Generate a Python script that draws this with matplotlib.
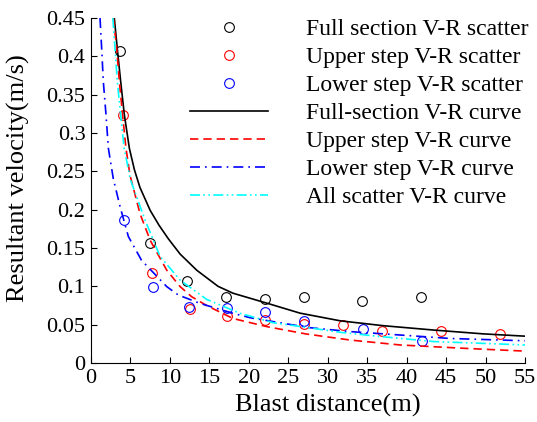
import matplotlib.pyplot as plt
from matplotlib.ticker import FormatStrFormatter

# scatter points
full_x = [3.67, 7.48, 12.2, 17.1, 22.1, 27.0, 34.4, 41.8]
full_y = [0.407, 0.157, 0.107, 0.086, 0.083, 0.0866, 0.081, 0.0856]
upper_x = [4.1, 7.7, 12.5, 17.2, 22.1, 27.0, 31.9, 36.9, 44.3, 51.8]
upper_y = [0.323, 0.117, 0.071, 0.061, 0.056, 0.051, 0.0496, 0.042, 0.042, 0.0374]
lower_x = [4.18, 7.8, 12.4, 17.2, 22.1, 27.0, 34.5, 41.9]
lower_y = [0.187, 0.099, 0.073, 0.072, 0.067, 0.055, 0.045, 0.029]

# fitted V-R curves, sampled from the figure
fc_x = [2.95, 3.33, 3.76, 4.22, 4.86, 5.5, 6.2, 7.5, 8.6, 9.8, 11.3, 13.4, 16.1,
        18.0, 22.3, 26.5, 31.6, 37.0, 43.4, 49.7, 55]
fc_y = [0.45, 0.41, 0.367, 0.324, 0.28, 0.252, 0.229, 0.199, 0.18, 0.162, 0.142,
        0.121, 0.1, 0.091, 0.078, 0.065, 0.055, 0.0487, 0.043, 0.038, 0.035]
uc_x = [2.83, 3.25, 3.59, 4.0, 4.43, 4.94, 6.2, 7.5, 9.6, 11.3, 12.75, 14.65,
        18.0, 22.3, 27.3, 32.8, 39.2, 47.6, 55]
uc_y = [0.45, 0.41, 0.367, 0.3235, 0.28, 0.245, 0.195, 0.16, 0.121, 0.0996,
        0.0865, 0.075, 0.058, 0.0474, 0.0378, 0.030, 0.0235, 0.019, 0.0155]
lc_x = [1.14, 1.35, 1.56, 1.9, 2.2, 2.83, 3.68, 4.73, 6.4, 9.6, 11.06, 13.8,
        18.0, 20.2, 24.4, 27.8, 32.8, 39.2, 45.5, 55]
lc_y = [0.45, 0.41, 0.367, 0.3235, 0.28, 0.24, 0.204, 0.165, 0.134, 0.0996,
        0.0887, 0.0778, 0.0648, 0.059, 0.0517, 0.046, 0.041, 0.0365, 0.032, 0.029]
ac_x = [2.77, 3.04, 3.33, 3.76, 4.2, 5.0, 6.84, 8.75, 11.3, 14.65, 18.9, 23.1,
        27.3, 31.6, 36.2, 43.4, 51.8, 55]
ac_y = [0.45, 0.41, 0.367, 0.3235, 0.28, 0.239, 0.1866, 0.139, 0.108, 0.083,
        0.0648, 0.0525, 0.0465, 0.040, 0.035, 0.028, 0.0248, 0.0235]

plt.rcParams["font.family"] = ["Liberation Serif", "DejaVu Serif"]

fig = plt.figure(figsize=(5.37, 4.22), dpi=100)
ax = fig.add_axes([0.1695, 0.1398, 0.8082, 0.8175])

mk = dict(marker="o", ls="none", ms=7, mfc="none", mew=0.8)
ax.plot(full_x, full_y, mec="black", label="Full section V-R scatter", **mk)
ax.plot(upper_x, upper_y, mec="red", label="Upper step V-R scatter", **mk)
ax.plot(lower_x, lower_y, mec="blue", label="Lower step V-R scatter", **mk)
ax.plot(fc_x, fc_y, color="black", lw=1.2, label="Full-section V-R curve")
ax.plot(uc_x, uc_y, color="red", lw=1.2, ls=(0, (5, 3)), label="Upper step V-R curve")
ax.plot(lc_x, lc_y, color="blue", lw=1.2, ls=(0, (6, 3, 1, 3)), label="Lower step V-R curve")
ax.plot(ac_x, ac_y, color="cyan", lw=1.2, ls=(0, (6, 2, 1, 2, 1, 2)), label="All scatter V-R curve")

ax.set_xlim(0, 55)
ax.set_ylim(0, 0.45)
ax.set_xticks(range(0, 56, 5))
ax.set_yticks([i * 0.05 for i in range(10)])
ax.yaxis.set_major_formatter(FormatStrFormatter("%g"))
ax.tick_params(direction="in", length=4, labelsize=16, pad=4)
ax.spines["top"].set_visible(False)
ax.spines["right"].set_visible(False)
ax.set_xlabel("Blast distance(m)", fontsize=19)
ax.set_ylabel("Resultant velocity(m/s)", fontsize=19)
ax.xaxis.set_label_coords(0.546, -0.09)
ax.yaxis.set_label_coords(-0.14, 0.535)

ax.legend(loc="upper right", bbox_to_anchor=(1.03, 1.025), frameon=False, fontsize=17,
          handlelength=3.3, handletextpad=1.6, labelspacing=0.27, borderaxespad=0)

fig.savefig("out.png", dpi=100)
